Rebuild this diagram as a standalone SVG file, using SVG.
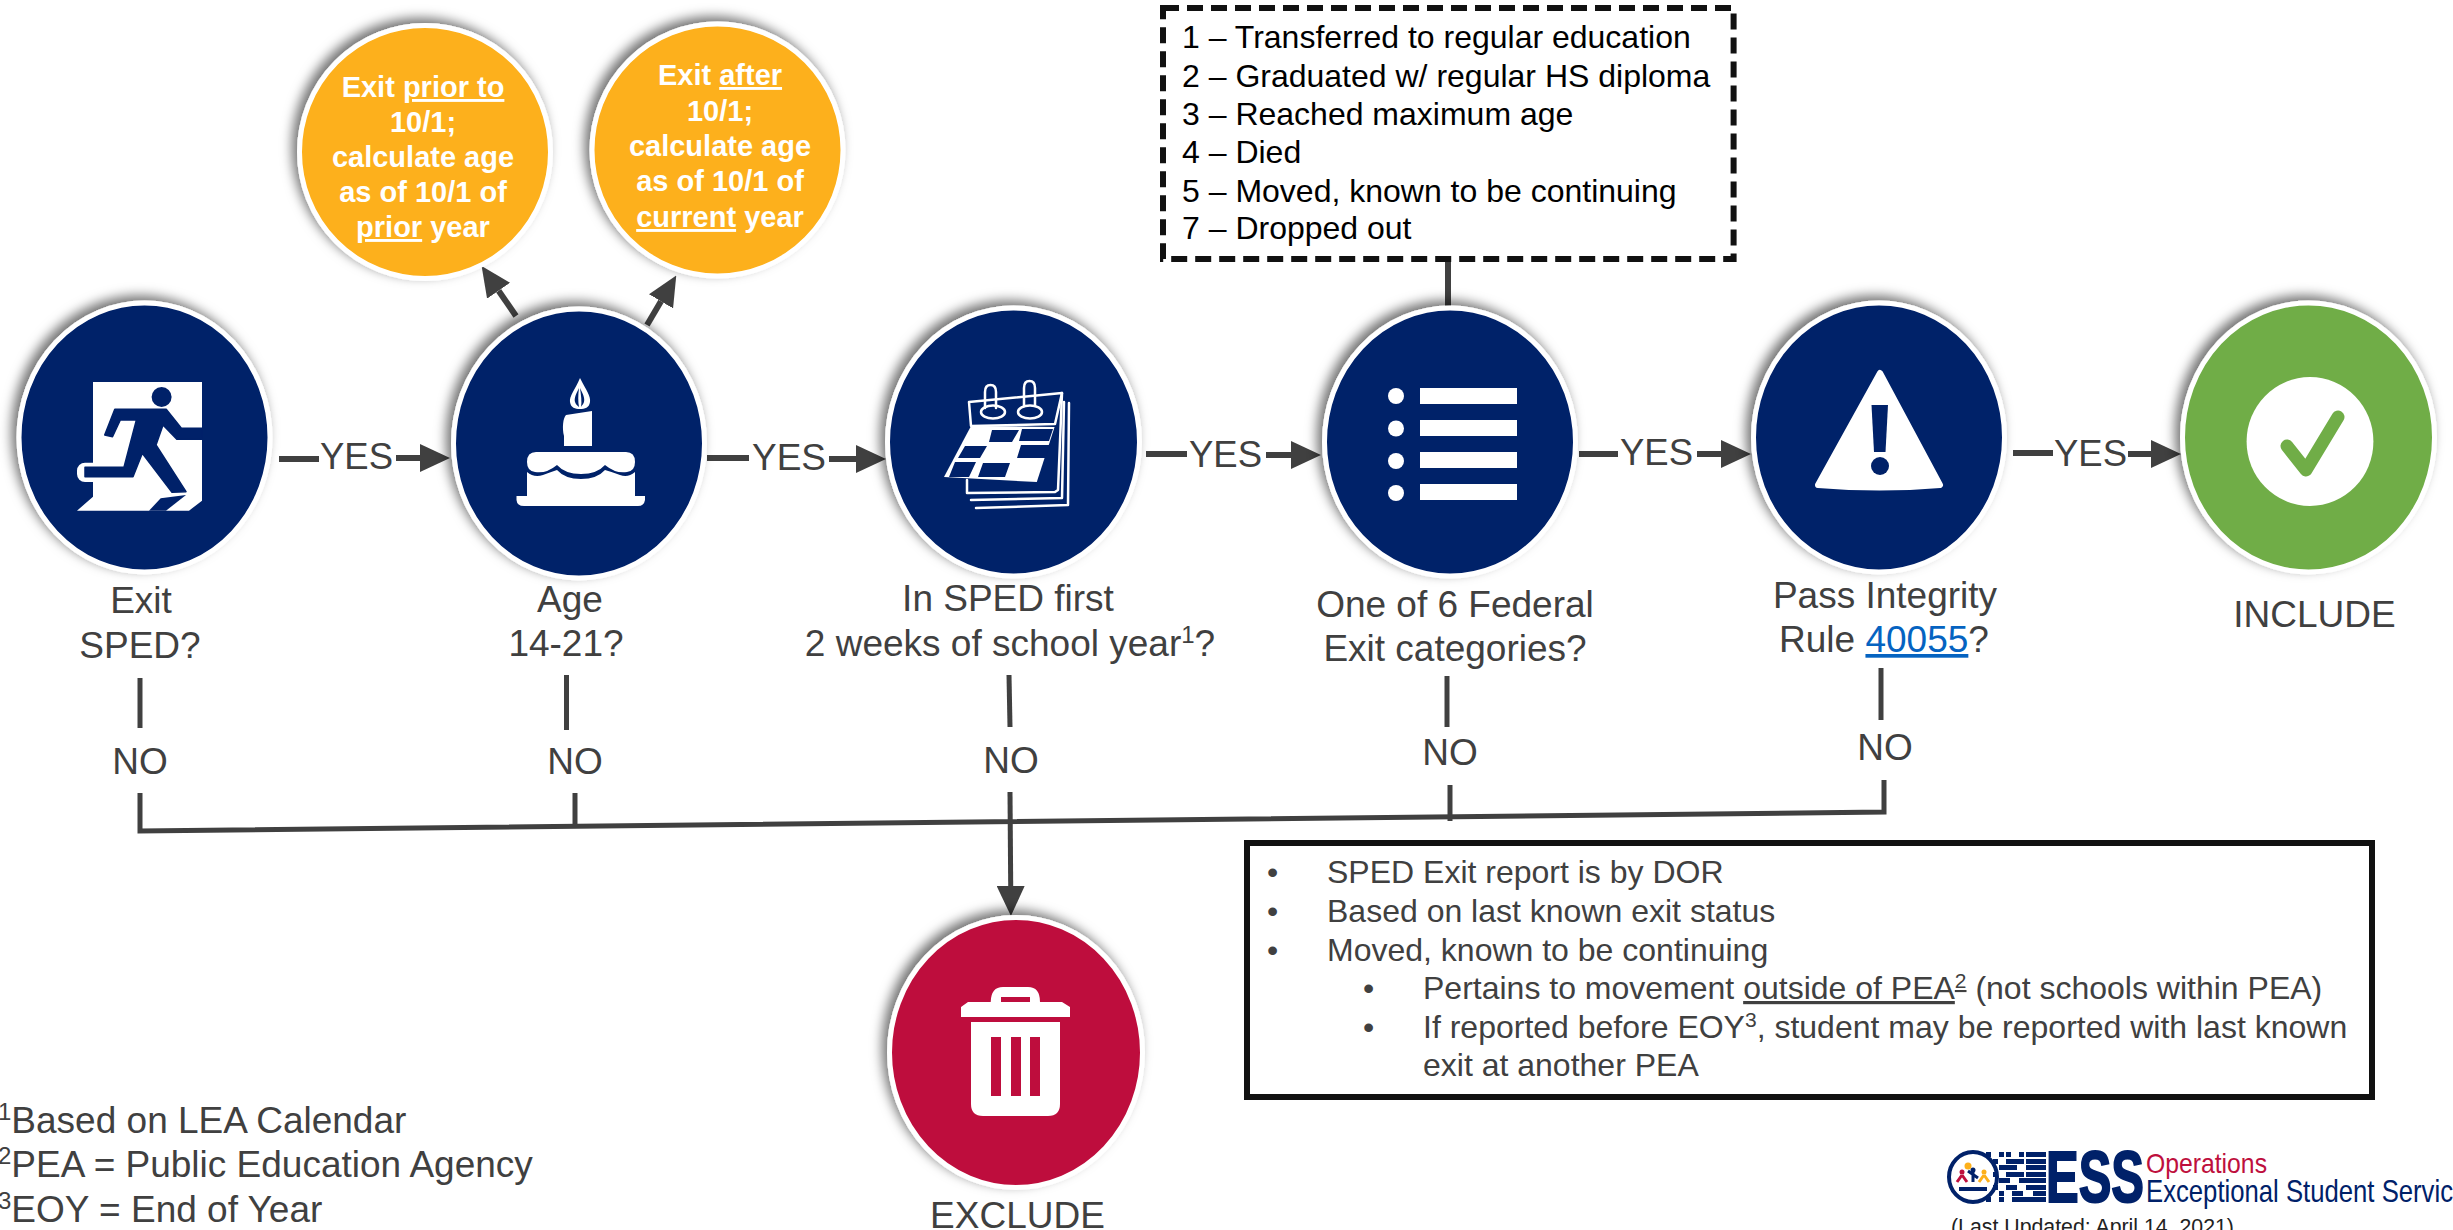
<svg xmlns="http://www.w3.org/2000/svg" width="2453" height="1230" viewBox="0 0 2453 1230">
<defs>
<filter id="sh" x="-20%" y="-20%" width="140%" height="140%"><feDropShadow dx="-5" dy="-5" stdDeviation="6" flood-color="#000" flood-opacity="0.55"/></filter>
<marker id="ah" markerUnits="userSpaceOnUse" markerWidth="30" markerHeight="28" viewBox="0 0 30 28" refX="0" refY="14" orient="auto"><path d="M0 0L30 14L0 28z" fill="#404040"/></marker>
</defs>
<style>
text{font-family:"Liberation Sans",Arial,sans-serif;fill:#404040;font-size:37px}
.m{text-anchor:middle}
.disc{stroke:#fff;stroke-width:5;filter:url(#sh)}
.navy{fill:#002169}
.amber{fill:#fdb01a}
.o{font-size:29px;font-weight:bold;fill:#fff;text-anchor:middle}
.l{fill:#000;font-size:32px}
.b{font-size:32px}
.u{text-decoration:underline}
.c{fill:none;stroke:#404040;stroke-width:6}
.thin{fill:none;stroke:#404040;stroke-width:5}
.w{fill:#fff}
.ln{fill:none;stroke:#fff;stroke-width:2.5;stroke-linejoin:round;stroke-linecap:round}
</style>
<rect width="2453" height="1230" fill="#fff"/>

<g id="connectors">
<path class="c" d="M279 459H319"/><path class="c" marker-end="url(#ah)" d="M396 458H420"/>
<path class="c" d="M707 458H749"/><path class="c" marker-end="url(#ah)" d="M829 459H856"/>
<path class="c" d="M1146 454H1187"/><path class="c" marker-end="url(#ah)" d="M1266 455H1291"/>
<path class="c" d="M1579 454H1618"/><path class="c" marker-end="url(#ah)" d="M1697 454H1721"/>
<path class="c" d="M2013 453H2053"/><path class="c" marker-end="url(#ah)" d="M2128 454H2151"/>
<path class="c" marker-end="url(#ah)" d="M516 316L498.600 290.700"/>
<path class="c" marker-end="url(#ah)" d="M647 325L661 301.300"/>
<path class="c" d="M1448 260V314"/>
<path class="thin" d="M140 678V728"/><path class="thin" d="M566.500 675V730"/><path class="thin" d="M1009 675L1010 727"/><path class="thin" d="M1447 676V727"/><path class="thin" d="M1881 668V720"/>
<path class="thin" d="M140 793V831L1884 812V780"/>
<path class="thin" d="M575 793V828"/>
<path class="thin" d="M1450 785V821"/>
<path class="thin" marker-end="url(#ah)" d="M1010 792L1010.700 886"/>
<g id="yes-no-labels">
<text x="320" y="469" textLength="73" lengthAdjust="spacingAndGlyphs">YES</text>
<text x="752" y="470" textLength="74" lengthAdjust="spacingAndGlyphs">YES</text>
<text x="1189" y="467" textLength="73" lengthAdjust="spacingAndGlyphs">YES</text>
<text x="1620" y="465" textLength="73" lengthAdjust="spacingAndGlyphs">YES</text>
<text x="2054" y="466" textLength="73" lengthAdjust="spacingAndGlyphs">YES</text>
<text class="m" x="140" y="774">NO</text>
<text class="m" x="575" y="774">NO</text>
<text class="m" x="1011" y="773">NO</text>
<text class="m" x="1450" y="765">NO</text>
<text class="m" x="1885" y="760">NO</text>
</g>
</g>

<g id="node-prior">
<ellipse class="disc amber" cx="425" cy="152" rx="125.500" ry="126.500"/>
<text class="o" x="423" y="97">Exit <tspan class="u">prior to</tspan></text>
<text class="o" x="423" y="132">10/1;</text>
<text class="o" x="423" y="167">calculate age</text>
<text class="o" x="423" y="202">as of 10/1 of</text>
<text class="o" x="423" y="237"><tspan class="u">prior</tspan> year</text>
</g>
<g id="node-after">
<ellipse class="disc amber" cx="717.500" cy="150" rx="125.500" ry="126"/>
<text class="o" x="720" y="85">Exit <tspan class="u">after</tspan></text>
<text class="o" x="720" y="121">10/1;</text>
<text class="o" x="720" y="156">calculate age</text>
<text class="o" x="720" y="191">as of 10/1 of</text>
<text class="o" x="720" y="227"><tspan class="u">current</tspan> year</text>
</g>

<g id="node-exit">
<ellipse class="disc navy" cx="144.500" cy="437.500" rx="125.500" ry="134.500"/>
<path class="w" d="M93 382H202V500.700L189 510.700H77L93 496.700z"/>
<rect class="w" x="77" y="462.700" width="61" height="19.300" rx="8"/>
<circle class="navy" cx="161.600" cy="397" r="10"/>
<path class="navy" stroke="#002169" stroke-width="1.500" stroke-linejoin="round" d="M104.700 435L114.800 409.300H166.200L181.400 428.300H202V439.300H176.800L163 425L156 445L186 491.700L172 492.300L142.300 453.300L133 476.700H85V467.300H124L136.400 420H120.300L112.500 436.700z"/>
<path class="navy" d="M149 510.700L160.700 498.300L186 495L166 510.700z"/>
<text class="m" x="141" y="613">Exit</text>
<text class="m" x="140" y="658">SPED?</text>
</g>

<g id="node-age">
<ellipse class="disc navy" cx="579" cy="443.500" rx="125.500" ry="134.500"/>
<path class="w" d="M580 378C586 390 591 396 590 402C589 408 585 409 580 409C575 409 571 408 570 402C569 396 575 390 580 378z"/>
<path class="navy" d="M580 388C583 394 585 398 584 402C583 405 581 406 581 407C582 402 581 395 580 388zM579 388C576 394 574 398 575 402C576 405 578 406 579 407C578 402 578 395 579 388z"/>
<path class="w" d="M566 415L592 411L592 446H564V436C562 428 563 418 566 415z"/>
<path class="w" d="M536 452H626Q635 452 635 462Q635 471 627 472Q616 474 605 465Q597 474 581 474Q565 474 557 465Q546 474 535 472Q527 471 527 462Q527 452 536 452z"/>
<path class="w" d="M527 472Q534 478 543 475Q551 472 557 470Q565 479 581 479Q597 479 605 470Q612 472 620 475Q628 478 635 472V496H527z"/>
<path class="w" d="M516.500 496H645V500Q644 506 638 506H524Q517 506 516.500 500z"/>
<text class="m" x="570" y="612">Age</text>
<text class="m" x="566" y="656">14-21?</text>
</g>

<g id="node-calendar">
<ellipse class="disc navy" cx="1013.500" cy="442" rx="126" ry="134"/>
<path class="ln" d="M969 402L1062 393L1055 424L971 426z"/>
<path class="ln" d="M985 408V392Q985 385 990.500 385Q996 385 996 392V408"/>
<path class="ln" d="M1024 406V388Q1024 381 1029.500 381Q1035 381 1035 388V406"/>
<ellipse class="ln" cx="993" cy="412" rx="12" ry="6.500"/>
<ellipse class="ln" cx="1030" cy="412" rx="12" ry="6.500"/>
<path class="w" d="M971 426L1054.600 427L1036.800 482L944 477z"/>
<path class="navy" d="M992 430H1019L1012 442H989zM1022 429H1053L1049 441H1019zM965 446H987L980 458H958zM1021 445H1051L1045 458H1017zM955 462H976L969 477H949zM983 463H1010L1005 477H978z"/>
<path class="ln" d="M967 480L967 493L1055 492L1058 490L1062 393"/>
<path class="ln" d="M1064 402L1062 498L971 500"/>
<path class="ln" d="M1069 403L1068 505L976 508"/>
<text class="m" x="1008" y="611">In SPED first</text>
<text class="m" x="1010" y="656">2 weeks of school year<tspan font-size="24" dy="-13">1</tspan><tspan dy="13">?</tspan></text>
</g>

<g id="node-list">
<ellipse class="disc navy" cx="1450" cy="442" rx="125.500" ry="134"/>
<path class="w" d="M1420 388H1517V404H1420zM1420 420H1517V436H1420zM1420 452H1517V468H1420zM1420 484H1517V500H1420z"/>
<circle class="w" cx="1396" cy="396" r="8"/><circle class="w" cx="1396" cy="428.500" r="8"/><circle class="w" cx="1396" cy="461" r="8"/><circle class="w" cx="1396" cy="493" r="8"/>
<text class="m" x="1455" y="617">One of 6 Federal</text>
<text class="m" x="1455" y="661">Exit categories?</text>
</g>

<g id="node-integrity">
<ellipse class="disc navy" cx="1879" cy="437.500" rx="125.500" ry="134.500"/>
<path class="w" stroke="#fff" stroke-width="6" stroke-linejoin="round" d="M1880 373L1940 485Q1880 490 1818 485z"/>
<path class="navy" d="M1871.500 405H1888L1885.500 452H1874z"/>
<circle class="navy" cx="1880" cy="466" r="9"/>
<text class="m" x="1885" y="608">Pass Integrity</text>
<text class="m" x="1884" y="652">Rule <tspan class="u" style="fill:#0563c1">40055</tspan>?</text>
</g>

<g id="node-include">
<ellipse class="disc" fill="#70ad47" cx="2308.500" cy="437.500" rx="126" ry="134.500"/>
<ellipse class="w" cx="2310" cy="441.500" rx="63.400" ry="64.500"/>
<path fill="none" stroke="#70ad47" stroke-width="13" stroke-linecap="round" stroke-linejoin="round" d="M2287 446L2306 470L2338 417"/>
<text class="m" x="2314.500" y="627">INCLUDE</text>
</g>

<g id="node-exclude">
<ellipse class="disc" fill="#be0f3d" cx="1016" cy="1052.500" rx="126.500" ry="135"/>
<path class="w" fill-rule="evenodd" d="M961 1007L968 1002H990.700Q991 987 1003 987H1028Q1040 987 1040 1002H1062L1070 1007V1017H961zM1001 997V1002H1030V997z"/>
<path class="w" fill-rule="evenodd" d="M971 1022H1060V1104Q1060 1116 1048 1116H983Q971 1116 971 1104zM991 1037V1096H1001V1037zM1011 1037V1096H1021V1037zM1030 1037V1096H1040V1037z"/>
<text class="m" x="1017.500" y="1228">EXCLUDE</text>
</g>

<g id="exit-codes">
<rect x="1163" y="8" width="570.600" height="251" fill="#fff" stroke="#111" stroke-width="6" stroke-dasharray="16 8"/>
<text class="l" x="1182" y="48">1 – Transferred to regular education</text>
<text class="l" x="1182" y="87">2 – Graduated w/ regular HS diploma</text>
<text class="l" x="1182" y="125">3 – Reached maximum age</text>
<text class="l" x="1182" y="163">4 – Died</text>
<text class="l" x="1182" y="202">5 – Moved, known to be continuing</text>
<text class="l" x="1182" y="239">7 – Dropped out</text>
</g>

<g id="notes">
<rect x="1247" y="843" width="1125" height="254" fill="#fff" stroke="#111" stroke-width="6"/>
<text class="b" x="1267" y="883">•</text><text class="b" x="1327" y="883">SPED Exit report is by DOR</text>
<text class="b" x="1267" y="922">•</text><text class="b" x="1327" y="922">Based on last known exit status</text>
<text class="b" x="1267" y="961">•</text><text class="b" x="1327" y="961">Moved, known to be continuing</text>
<text class="b" x="1363" y="999">•</text><text class="b" x="1423" y="999">Pertains to movement <tspan class="u">outside of PEA<tspan font-size="21" dy="-11">2</tspan></tspan><tspan dy="11"> (not schools within PEA)</tspan></text>
<text class="b" x="1363" y="1038">•</text><text class="b" x="1423" y="1038">If reported before EOY<tspan font-size="21" dy="-11">3</tspan><tspan dy="11">, student may be reported with last known</tspan></text>
<text class="b" x="1423" y="1076">exit at another PEA</text>
</g>

<g id="footnotes">
<text x="-2" y="1133"><tspan font-size="24" dy="-13">1</tspan><tspan dy="13">Based on LEA Calendar</tspan></text>
<text x="-2" y="1177"><tspan font-size="24" dy="-13">2</tspan><tspan dy="13">PEA = Public Education Agency</tspan></text>
<text x="-2" y="1222"><tspan font-size="24" dy="-13">3</tspan><tspan dy="13">EOY = End of Year</tspan></text>
</g>

<g id="logo">
<ellipse cx="1973" cy="1177" rx="24" ry="25" fill="#fff" stroke="#002169" stroke-width="4"/>
<circle cx="1968" cy="1166" r="3.500" fill="#fdb01a"/>
<circle cx="1962" cy="1172" r="2.500" fill="#be0f3d"/><path d="M1962 1175L1957 1182M1962 1175L1967 1182" stroke="#be0f3d" stroke-width="3"/>
<circle cx="1973" cy="1170" r="2.500" fill="#002169"/><path d="M1973 1172V1182M1968 1171L1978 1178" stroke="#002169" stroke-width="3"/>
<circle cx="1984" cy="1172" r="2.500" fill="#fdb01a"/><path d="M1984 1175L1979 1182M1984 1175L1989 1182" stroke="#fdb01a" stroke-width="3"/>
<path d="M1959 1187H1987V1191H1959z" fill="#002169"/>
<path fill="#002169" d="M1986 1152h5v5h-5zM1999 1152h5v5h-5zM2006 1152h5v5h-5zM2019 1152h5v5h-5zM2026 1152h20v5h-20zM1993 1159h5v5h-5zM2006 1159h18v5h-18zM2026 1159h20v5h-20zM1999 1165h18v5h-18zM2026 1165h20v5h-20zM1993 1172h5v5h-5zM2006 1172h18v5h-18zM2026 1172h20v5h-20zM1999 1178h11v5h-11zM2019 1178h27v5h-27zM1993 1185h5v5h-5zM2006 1185h11v5h-11zM2026 1185h20v5h-20zM1999 1191h5v5h-5zM2012 1191h11v5h-11zM2033 1191h13v5h-13zM1986 1197h5v5h-5zM1999 1197h5v5h-5zM2012 1197h34v5h-34z"/>
<text x="2046" y="1202" textLength="98" lengthAdjust="spacingAndGlyphs" style="font-size:72px;font-weight:bold;fill:#002169;stroke:#002169;stroke-width:2">ESS</text>
<text x="2146" y="1173" textLength="121" lengthAdjust="spacingAndGlyphs" style="font-size:28px;fill:#be0f3d">Operations</text>
<text x="2146" y="1202" textLength="307" lengthAdjust="spacingAndGlyphs" style="font-size:32px;fill:#002169">Exceptional Student Servic</text>
<text x="1951" y="1234" style="font-size:21.300px;fill:#222">(Last Updated: April 14, 2021)</text>
</g>
</svg>
